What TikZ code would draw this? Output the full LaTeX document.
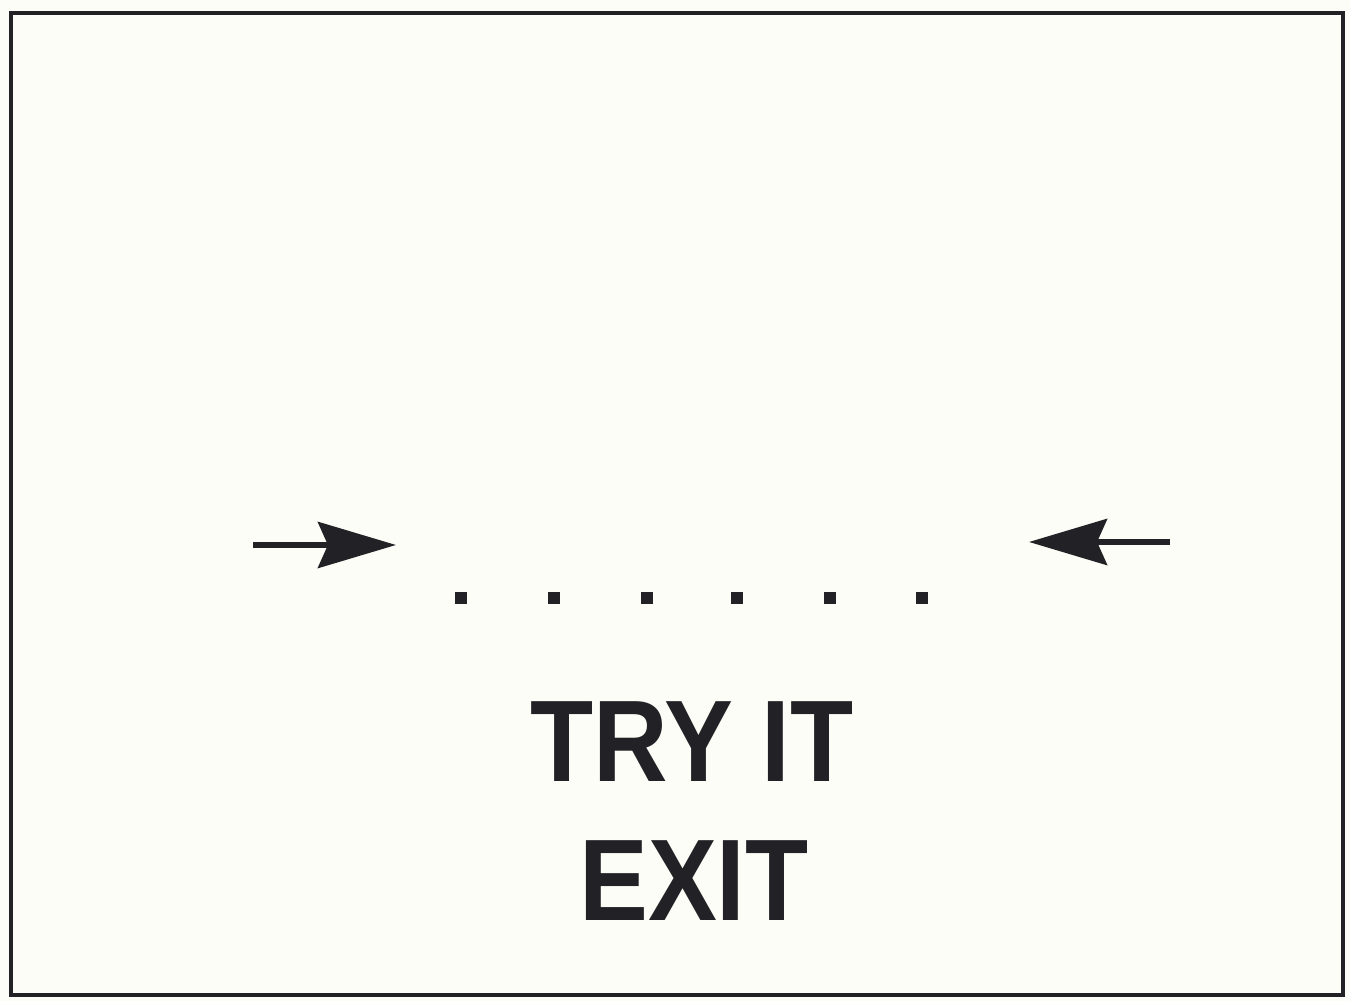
\documentclass[tikz,border=0pt]{standalone}
\usepackage{fontspec}
\setmainfont{Liberation Sans}
\usepackage{xcolor}
\usepackage{graphicx}
\usetikzlibrary{arrows.meta,positioning}
\definecolor{paper}{HTML}{FDFDF7}
\definecolor{ink}{HTML}{222226}

\begin{document}
\begin{tikzpicture}[x=0.01cm, y=-0.01cm,
  pointer/.style={ink, line width=1.6pt,
    -{Stealth[length=0.78cm, width=0.46cm, inset=0.1cm]}},
  dot/.style={rectangle, fill=ink, inner sep=0pt, minimum size=0.115cm},
  sign/.style={font=\fontsize{33}{33}\selectfont\bfseries, text=ink, inner sep=0pt}]
  \fill[paper] (0,0) rectangle (1350,1001);
  \useasboundingbox (0,0) rectangle (1350,1001);
  \draw[ink, line width=1.2pt] (11,13) rectangle (1343,995);

  % arrows pointing in at the dotted row
  \coordinate (lfrom) at (253,545);
  \coordinate (lto) at (396,545);
  \coordinate (rfrom) at (1170,542);
  \coordinate (rto) at (1029,542);
  \draw[pointer] (lfrom) -- (lto);
  \draw[pointer] (rfrom) -- (rto);

  \foreach \x [count=\i] in {461,554,647,737,830,922}
    \node[dot] (d\i) at (\x,598) {};

  \node[sign] (try) at (692,742) {\scalebox{0.89}[1]{TRY IT}};
  \node[sign] (exit) at (694,881) {\scalebox{0.89}[1]{EXIT}};
\end{tikzpicture}
\end{document}
